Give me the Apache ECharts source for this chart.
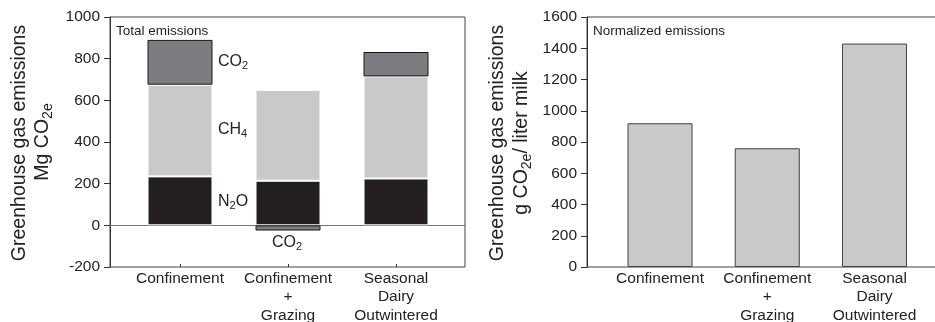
<!DOCTYPE html>
<html><head><meta charset="utf-8">
<script src="https://cdn.jsdelivr.net/npm/echarts@6/dist/echarts.min.js"></script>
<style>html,body{margin:0;padding:0;background:#fff}#c{width:935px;height:322px}</style>
</head><body><div id="c"></div>
<script>
var categories = ['Confinement', 'Confinement\n+\nGrazing', 'Seasonal\nDairy\nOutwintered'];
var n2o = [235, 214, 225];
var ch4 = [440, 436, 490];
var co2 = [215, -25, 117];
var normalized = [920, 760, 1430];
var leftTicks = {min: -200, max: 1000, interval: 200};
var rightTicks = {min: 0, max: 1600, interval: 200};

var FONT = "'Liberation Sans', Arial, sans-serif";
var chart = echarts.init(document.getElementById('c'));
function ann(x, y, text, size) {
  return {type: 'text', x: x, y: y, silent: true, style: {text: text, fontSize: size, fontFamily: FONT, fill: '#222', verticalAlign: 'middle', align: 'left',
    rich: {s: {fontSize: 11, fontFamily: FONT, fill: '#222', padding: [8, 0, 0, 0]}, n: {fontSize: size, fontFamily: FONT, fill: '#222'}}}};
}
function vtitle(x, y, text) {
  return {type: 'text', x: x, y: y, rotation: Math.PI / 2, silent: true,
    style: {text: text, fontSize: 19.5, fontFamily: FONT, fill: '#222', align: 'center', verticalAlign: 'middle',
      rich: {n: {fontSize: 19.5, fontFamily: FONT, fill: '#222'}, s: {fontSize: 14, fontFamily: FONT, fill: '#222', padding: [10, 0, 0, 0]}}}};
}
var plain = function (v) { return String(v); };
var yLab = {fontSize: 15.5, fontFamily: FONT, color: '#222', margin: 10, formatter: plain};
var catLab = {fontSize: 15.5, fontFamily: FONT, color: '#222', margin: 2, lineHeight: 18.5, interval: 0};
var gbase = {top: 17, height: 250, outerBoundsMode: 'none', containLabel: false};

var option = {
  animation: false,
  grid: [
    Object.assign({left: 110, width: 355, show: true, borderColor: '#444', borderWidth: 1, backgroundColor: 'transparent'}, gbase),
    Object.assign({left: 126, width: 324}, gbase),
    Object.assign({left: 587, width: 361, show: true, borderColor: '#444', borderWidth: 1, backgroundColor: 'transparent'}, gbase),
    Object.assign({left: 606.4, width: 321.75}, gbase)
  ],
  xAxis: [
    {gridIndex: 0, type: 'value', min: 0, max: 1, axisLine: {onZero: true, lineStyle: {color: '#777', width: 1}}, axisTick: {show: false}, axisLabel: {show: false}, splitLine: {show: false}},
    {gridIndex: 1, type: 'category', data: categories, axisLine: {show: false, onZero: false}, axisTick: {show: true, inside: true, alignWithLabel: true, length: 3, lineStyle: {color: '#333'}}, axisLabel: catLab},
    {gridIndex: 2, type: 'value', min: 0, max: 1, axisLine: {show: false}, axisTick: {show: false}, axisLabel: {show: false}, splitLine: {show: false}},
    {gridIndex: 3, type: 'category', data: categories, axisLine: {show: false, onZero: false}, axisTick: {show: false}, axisLabel: catLab}
  ],
  yAxis: [
    {gridIndex: 0, type: 'value', min: leftTicks.min, max: leftTicks.max, interval: leftTicks.interval, axisLine: {show: true, lineStyle: {color: '#333'}}, axisTick: {show: true, length: 6, lineStyle: {color: '#333'}}, axisLabel: yLab, splitLine: {show: false}},
    {gridIndex: 1, type: 'value', min: leftTicks.min, max: leftTicks.max, interval: leftTicks.interval, show: false},
    {gridIndex: 2, type: 'value', min: rightTicks.min, max: rightTicks.max, interval: rightTicks.interval, axisLine: {show: true, lineStyle: {color: '#333'}}, axisTick: {show: true, length: 6, lineStyle: {color: '#333'}}, axisLabel: yLab, splitLine: {show: false}},
    {gridIndex: 3, type: 'value', min: rightTicks.min, max: rightTicks.max, interval: rightTicks.interval, show: false}
  ],
  series: [
    {type: 'bar', name: 'N2O', xAxisIndex: 1, yAxisIndex: 1, stack: 'tot', barWidth: 65, data: n2o, itemStyle: {color: '#231f20', borderColor: '#fff', borderWidth: 1}},
    {type: 'bar', name: 'CH4', xAxisIndex: 1, yAxisIndex: 1, stack: 'tot', barWidth: 65, data: ch4, itemStyle: {color: '#c8c9cb', borderColor: '#fff', borderWidth: 1}},
    {type: 'bar', name: 'CO2', xAxisIndex: 1, yAxisIndex: 1, stack: 'tot', barWidth: 65, data: co2, itemStyle: {color: '#7b7c7f', borderColor: '#1a1a1a', borderWidth: 1}},
    {type: 'bar', name: 'Normalized', xAxisIndex: 3, yAxisIndex: 3, barWidth: 65, data: normalized, itemStyle: {color: '#c8c9cb', borderColor: '#444', borderWidth: 1}}
  ],
  graphic: [
    {type: 'text', x: 116, y: 31, silent: true, style: {text: 'Total emissions', fontSize: 13.5, fontFamily: FONT, fill: '#222', verticalAlign: 'middle'}},
    {type: 'text', x: 593, y: 31, silent: true, style: {text: 'Normalized emissions', fontSize: 13.5, fontFamily: FONT, fill: '#222', verticalAlign: 'middle'}},
    ann(218, 62, '{n|CO}{s|2}', 16),
    ann(218, 130, '{n|CH}{s|4}', 16),
    ann(218, 202, '{n|N}{s|2}{n|O}', 16),
    ann(272, 243, '{n|CO}{s|2}', 16),
    vtitle(20, 143, 'Greenhouse gas emissions'),
    vtitle(43, 142, '{n|Mg CO}{s|2e}'),
    vtitle(498, 143, 'Greenhouse gas emissions'),
    vtitle(522, 143, '{n|g CO}{s|2e}{n|/ liter milk}')
  ]
};
chart.setOption(option);
</script></body></html>
